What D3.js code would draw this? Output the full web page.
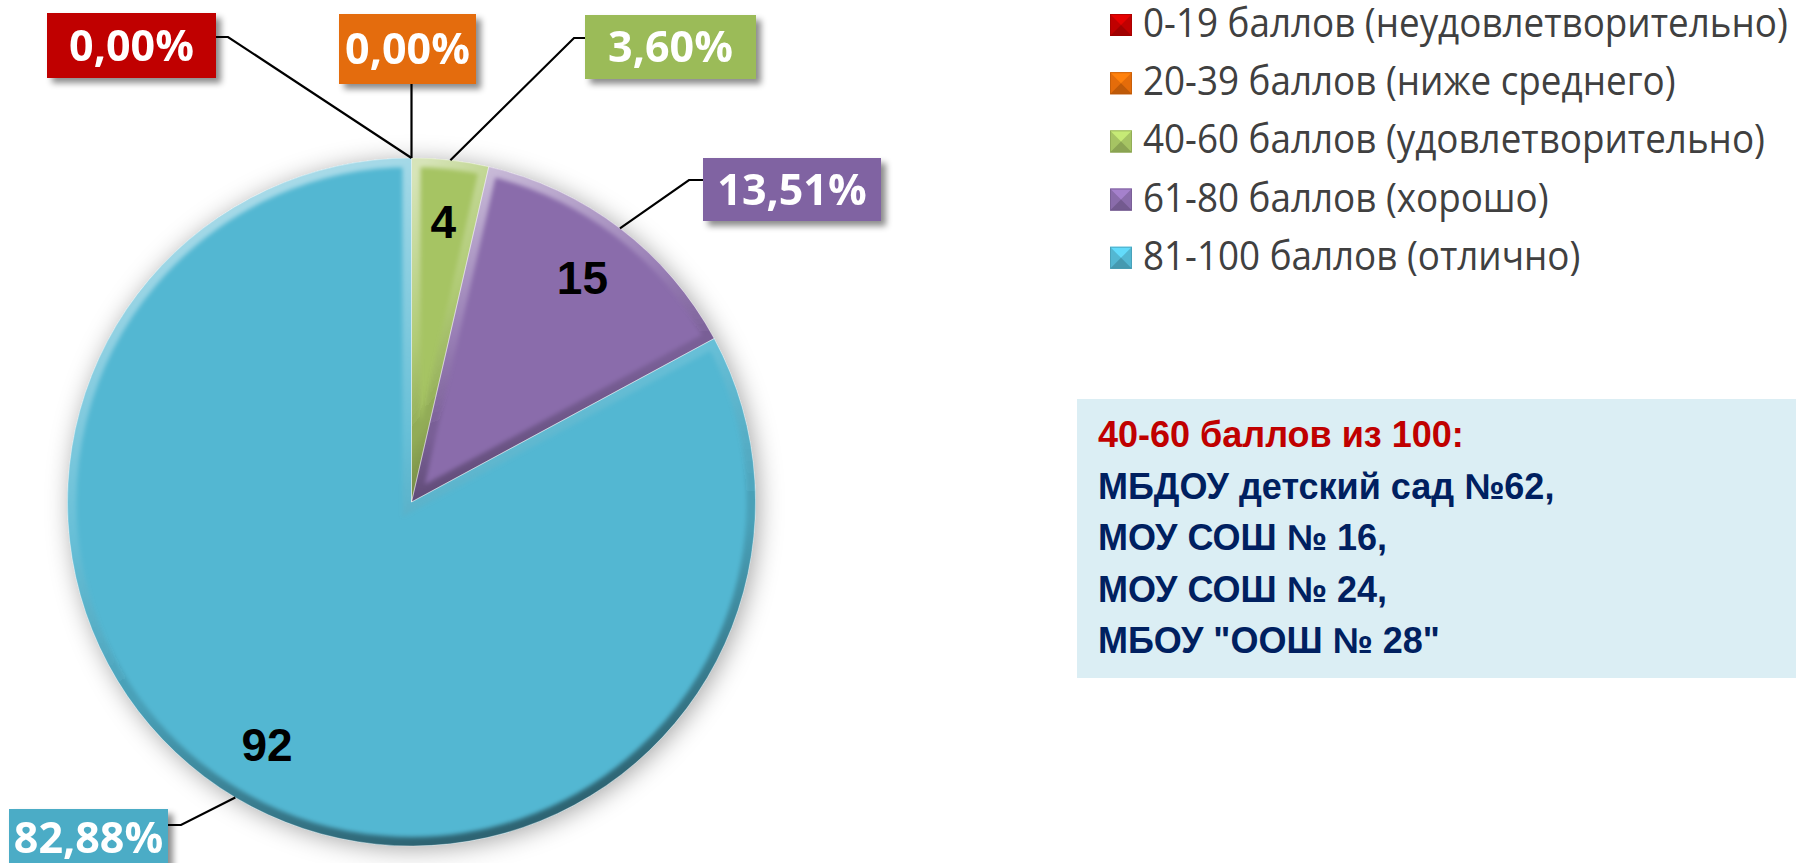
<!DOCTYPE html>
<html><head><meta charset="utf-8">
<script src="https://cdn.jsdelivr.net/npm/d3@7"></script>
<style>html,body{margin:0;padding:0;background:#fff;overflow:hidden}</style>
</head><body><svg id="c" width="1796" height="863"></svg>
<script>
// ---------- data ----------
const categories = [
  "0-19 баллов (неудовлетворительно)",
  "20-39 баллов (ниже среднего)",
  "40-60 баллов (удовлетворительно)",
  "61-80 баллов (хорошо)",
  "81-100 баллов (отлично)"
];
const counts = [0, 0, 4, 15, 92];
const sliceColors = ["#C00000", "#E46C0A", "#A6C463", "#8A6CAB", "#53B7D2"];
const boxColors   = ["#C00000", "#E46C0A", "#9BBB59", "#8064A2", "#4BACC6"];
const noteTitle = "40-60 баллов из 100:";
const noteLines = ["МБДОУ детский сад №62,", "МОУ СОШ № 16,", "МОУ СОШ № 24,", "МБОУ \"ООШ № 28\""];

// ---------- layout ----------
const cx = 411.5, cy = 502, R = 344;
const labelBoxes = [
  {x:47,  y:13,  w:169, h:65, ax:216, ay:37,  ex:228, ey:37},
  {x:339, y:14,  w:137, h:70, ax:411.5, ay:84, ex:411.5, ey:84},
  {x:585, y:15,  w:171, h:64, ax:585, ay:38,  ex:574, ey:38},
  {x:703, y:158, w:178, h:63, ax:703, ay:180, ex:689, ey:180},
  {x:9,   y:809, w:159, h:58, ax:168, ay:825, ex:181, ey:825}
];

const svg = d3.select("#c");
const defs = svg.append("defs");

function shadowFilter(id, blur, dx, dy, op) {
  const f = defs.append("filter").attr("id",id).attr("filterUnits","userSpaceOnUse")
    .attr("x",-3000).attr("y",-3000).attr("width",6000).attr("height",6000);
  f.append("feGaussianBlur").attr("in","SourceAlpha").attr("stdDeviation",blur).attr("result","b");
  f.append("feOffset").attr("in","b").attr("dx",dx).attr("dy",dy).attr("result","o");
  f.append("feFlood").attr("flood-color","#000").attr("flood-opacity",op).attr("result","fl");
  f.append("feComposite").attr("in","fl").attr("in2","o").attr("operator","in").attr("result","s");
  const m = f.append("feMerge");
  m.append("feMergeNode").attr("in","s");
  m.append("feMergeNode").attr("in","SourceGraphic");
}
shadowFilter("shadow", 12, 3, 3, 0.35);
shadowFilter("boxshadow", 3, 5, 5, 0.45);

defs.append("filter").attr("id","soft").attr("filterUnits","userSpaceOnUse")
  .attr("x",-3000).attr("y",-3000).attr("width",6000).attr("height",6000)
  .append("feGaussianBlur").attr("stdDeviation",2);

const bev = defs.append("linearGradient").attr("id","bevel").attr("x1","0.2").attr("y1","0").attr("x2","0.5").attr("y2","1");
bev.append("stop").attr("offset","0").attr("stop-color","#fff").attr("stop-opacity",0.55);
bev.append("stop").attr("offset","0.45").attr("stop-color","#fff").attr("stop-opacity",0.12);
bev.append("stop").attr("offset","0.7").attr("stop-color","#000").attr("stop-opacity",0.12);
bev.append("stop").attr("offset","1").attr("stop-color","#000").attr("stop-opacity",0.45);

// ---------- pie ----------
const total = d3.sum(counts);
const pie = d3.pie().sort(null).value(d => d).startAngle(0).endAngle(2*Math.PI);
const arcs = pie(counts);
const shown = arcs.filter(d => d.value > 0);
const arc = d3.arc().innerRadius(0).outerRadius(R);
const edgeArc = d3.arc().innerRadius(R).outerRadius(R);
const labelArc = d3.arc().innerRadius(R*0.82).outerRadius(R*0.82);

const gPie = svg.append("g").attr("transform",`translate(${cx},${cy})`);
gPie.append("g").attr("filter","url(#shadow)")
  .selectAll("path").data(shown).join("path")
  .attr("d",arc).attr("fill",d=>sliceColors[d.index]);

shown.forEach(d => {
  defs.append("clipPath").attr("id","clip"+d.index).append("path").attr("d",arc(d));
});
shown.forEach(d => {
  gPie.append("g").attr("clip-path",`url(#clip${d.index})`)
    .append("path").attr("d",arc(d)).attr("fill","none")
    .attr("stroke","url(#bevel)").attr("stroke-width",18).attr("filter","url(#soft)");
});
gPie.append("g").selectAll("path").data(shown).join("path")
  .attr("d",arc).attr("fill","none")
  .attr("stroke","#fff").attr("stroke-opacity",0.35).attr("stroke-width",1);

// slice value labels
gPie.selectAll("text.v").data(shown).join("text")
  .attr("class","v")
  .attr("transform",d=>`translate(${labelArc.centroid(d)})`)
  .attr("text-anchor","middle").attr("dy","0.36em")
  .style("font-family","'Liberation Sans', Arial, sans-serif")
  .style("font-weight","bold").style("font-size","46px").attr("fill","#000")
  .text(d=>d.value);

// leader lines + percentage boxes
const fmt = v => (v/total*100).toFixed(2).replace(".",",") + "%";
const gLab = svg.append("g");
arcs.forEach((d,i) => {
  const L = labelBoxes[i];
  const mid = (d.startAngle + d.endAngle)/2;
  const p = edgeArc.centroid({startAngle:mid, endAngle:mid});
  gLab.append("path")
    .attr("d", `M${L.ax},${L.ay}L${L.ex},${L.ey}L${cx+p[0]},${cy+p[1]}`)
    .attr("fill","none").attr("stroke","#000").attr("stroke-width",2.2);
  const g = gLab.append("g").attr("filter","url(#boxshadow)");
  g.append("rect").attr("x",L.x).attr("y",L.y).attr("width",L.w).attr("height",L.h)
    .attr("fill",boxColors[i]);
  g.append("text").attr("x",L.x+L.w/2).attr("y",L.y+L.h/2).attr("dy","0.36em")
    .attr("text-anchor","middle").attr("fill","#fff")
    .style("font-family","'Open Sans', sans-serif").style("font-weight","bold").style("font-size","43px")
    .text(fmt(d.value));
});

// ---------- legend ----------
const legY0 = 37, legStep = 58.2, legX = 1143, markX = 1110, markS = 22;
const gLeg = svg.append("g");
const shade = (c,k) => d3.color(c)[k>0?"brighter":"darker"](Math.abs(k)).formatHex();
categories.forEach((c,i) => {
  const y = legY0 + i*legStep;
  const x0 = markX, y0 = y - markS - 1, s = markS, mx = x0+s/2, my = y0+s/2;
  const col = sliceColors[i];
  gLeg.append("rect").attr("x",x0).attr("y",y0).attr("width",s).attr("height",s).attr("fill",col);
  gLeg.append("path").attr("d",`M${x0},${y0}L${x0+s},${y0}L${mx},${my}Z`).attr("fill",shade(col,0.5));
  gLeg.append("path").attr("d",`M${x0},${y0+s}L${x0+s},${y0+s}L${mx},${my}Z`).attr("fill",shade(col,-0.5));
  gLeg.append("rect").attr("x",x0+0.5).attr("y",y0+0.5).attr("width",s-1).attr("height",s-1)
    .attr("fill","none").attr("stroke",shade(col,-0.6)).attr("stroke-opacity",0.6);
});
const legTexts = gLeg.selectAll("text").data(categories).join("text")
  .attr("x",0).attr("y",0)
  .style("font-family","'Open Sans', sans-serif").style("font-size","41px").attr("fill","#404040")
  .text(d=>d);
const w0 = legTexts.nodes()[0].getComputedTextLength();
const kx = 645 / w0;
legTexts.attr("transform",(d,i)=>`translate(${legX},${legY0+i*legStep}) scale(${kx},1)`);

// ---------- note box ----------
const gNote = svg.append("g");
gNote.append("rect").attr("x",1077).attr("y",399).attr("width",719).attr("height",279).attr("fill","#DBEEF4");
const noteAll = [noteTitle].concat(noteLines);
gNote.selectAll("text").data(noteAll).join("text")
  .attr("x",1098).attr("y",(d,i)=>447 + i*51.5)
  .style("font-family","'Liberation Sans', Arial, sans-serif").style("font-weight","bold").style("font-size","36px")
  .attr("fill",(d,i)=> i===0 ? "#C00000" : "#002060")
  .text(d=>d);
</script></body></html>
